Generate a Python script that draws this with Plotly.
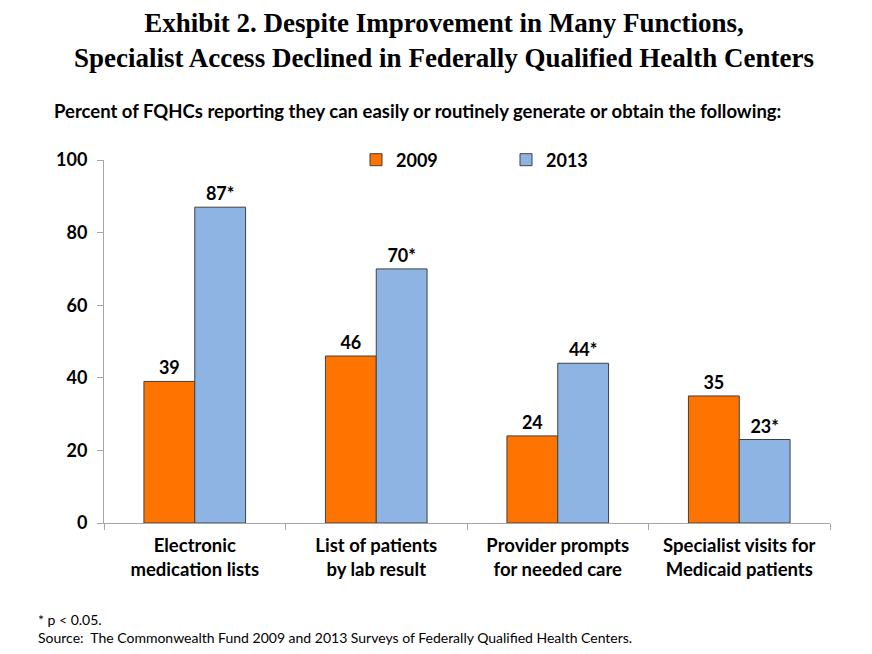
import plotly.graph_objects as go

# values
categories = ["Electronic<br>medication lists", "List of patients<br>by lab result",
              "Provider prompts<br>for needed care", "Specialist visits for<br>Medicaid patients"]
series_names = ["2009", "2013"]
values_2009 = [39, 46, 24, 35]
values_2013 = [87, 70, 44, 23]
significant_2013 = [True, True, True, True]
y_ticks = [0, 20, 40, 60, 80, 100]

ORANGE = "#FF7301"
BLUE = "#8EB4E3"
OUTLINE = "#404040"

labels_2009 = [str(v) for v in values_2009]
labels_2013 = [f"{v}*" if s else str(v) for v, s in zip(values_2013, significant_2013)]

W, H = 872, 654
OFF = 8  # page offset of the figure in the browser window
ml, mr, mt, mb = 104 - OFF, 42 + OFF, 160 - OFF, 131 + OFF
ph = H - mt - mb


def py(win_y):
    # window pixel (from top) -> paper y
    return (H - mb - (win_y - OFF)) / ph


def px(win_x):
    return (win_x - OFF - ml) / (W - ml - mr)


fig = go.Figure()
for name, vals, labels, color in [
    (series_names[0], values_2009, labels_2009, ORANGE),
    (series_names[1], values_2013, labels_2013, BLUE),
]:
    fig.add_trace(go.Bar(
        name=name, x=categories, y=vals, text=labels,
        textposition="outside", cliponaxis=False,
        textfont=dict(family="Lato", size=18, color="black", weight="bold"),
        marker=dict(color=color, line=dict(color=OUTLINE, width=1)),
    ))

fig.update_layout(
    width=W, height=H,
    margin=dict(l=ml, r=mr, t=mt, b=mb),
    paper_bgcolor="white", plot_bgcolor="white",
    barmode="group", bargap=0.44, bargroupgap=0,
    font=dict(family="Lato", color="black"),
    title=dict(
        text="Exhibit 2. Despite Improvement in Many Functions,<br>"
             "Specialist Access Declined in Federally Qualified Health Centers",
        x=0.5, xanchor="center", y=1 - (32 - OFF) / H, yanchor="middle",
        font=dict(family="Liberation Serif", size=27, color="black", weight="bold"),
    ),
    legend=dict(
        orientation="h", x=px(356), xanchor="left", y=py(160), yanchor="middle",
        font=dict(family="Lato", size=18, color="black", weight="bold"),
        traceorder="normal", entrywidth=105,
    ),
    showlegend=True,
)

fig.update_yaxes(
    range=[0, 100], tickvals=y_ticks, showgrid=False, zeroline=False,
    showline=True, linecolor="#A6A6A6", linewidth=1,
    ticks="outside", tickcolor="#A6A6A6", ticklen=6,
    tickfont=dict(family="Lato", size=18, color="black", weight="bold"),
    ticklabelstandoff=6,
)
fig.update_xaxes(
    showline=True, linecolor="#A6A6A6", linewidth=1,
    ticks="outside", tickcolor="#A6A6A6", ticklen=6, tickson="boundaries",
    tickfont=dict(family="Lato", size=18.5, color="black", weight="bold"),
    ticklabelstandoff=6,
)

fig.add_annotation(
    text="Percent of FQHCs reporting they can easily or routinely generate or obtain the following:",
    xref="paper", yref="paper", x=px(52), y=py(111), xanchor="left", yanchor="middle",
    showarrow=False, font=dict(family="Lato", size=18.5, color="black", weight="bold"),
)
fig.add_annotation(
    text="* p < 0.05.<br>Source:  The Commonwealth Fund 2009 and 2013 Surveys of Federally Qualified Health Centers.",
    xref="paper", yref="paper", x=px(36), y=py(628), xanchor="left", yanchor="middle",
    align="left", showarrow=False, font=dict(family="Lato", size=14, color="black"),
)

fig.write_html("out.html")
